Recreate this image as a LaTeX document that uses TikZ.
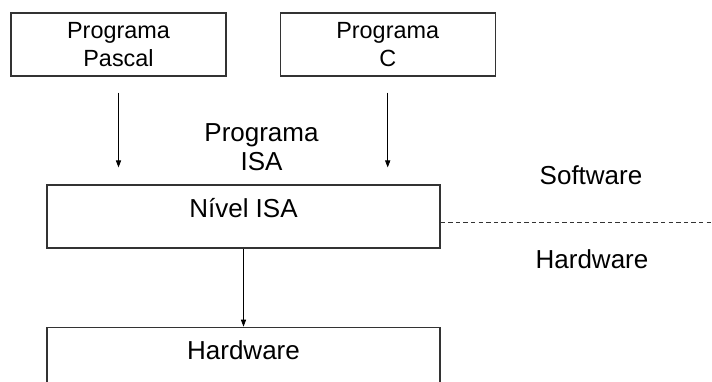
\documentclass[tikz,border=0pt]{standalone}
\usepackage{fontspec}
\setmainfont{Liberation Sans}
\usetikzlibrary{positioning,arrows.meta}

\begin{document}
\begin{tikzpicture}[x=0.5pt,y=-0.5pt,
    box/.style={draw=black!80, line width=0.6pt, minimum width=107.5pt, minimum height=31.5pt,
      inner sep=0pt, align=center, font=\fontsize{11.7}{13.6}\selectfont},
    layer/.style={draw=black!80, line width=0.6pt, minimum width=196.5pt, inner sep=0pt,
      text height=16pt, text depth=15.5pt, font=\fontsize{13}{15}\selectfont},
    lbl/.style={align=center, inner sep=0pt, font=\fontsize{13}{14.5}\selectfont},
    arr/.style={-{Triangle[length=3.5pt,width=2.6pt]}, line width=0.4pt},
    sep/.style={dash pattern=on 2.2pt off 1.6pt, line width=0.5pt, black!80}]
\useasboundingbox (0,0) rectangle (712,381);
% source programs
\node (pascal) [box] at (118.5,44.5) {Programa\\Pascal};
\node (progc) [box, right=26.5pt of pascal] {Programa\\C};
% levels
\node (nivel) [layer] at (243.5,216.5) {Nível ISA};
\node (hw) [layer, below=39pt of nivel] {Hardware};
\node (isa) [lbl] at (261.5,147) {Programa\\ISA};
% software / hardware split
\coordinate (rim) at (712,222);
\node (sw) [lbl] at (591,175) {Software};
\node (hwside) [lbl] at (592,259) {Hardware};
\draw[sep] (nivel.east |- rim) -- (rim);
\draw[arr, shorten <=8pt, shorten >=8.5pt] (pascal.south) -- (pascal.south |- nivel.north);
\draw[arr, shorten <=8pt, shorten >=8.5pt] (progc.south) -- (progc.south |- nivel.north);
\draw[arr] (nivel.south) -- (hw.north);
\end{tikzpicture}
\end{document}
